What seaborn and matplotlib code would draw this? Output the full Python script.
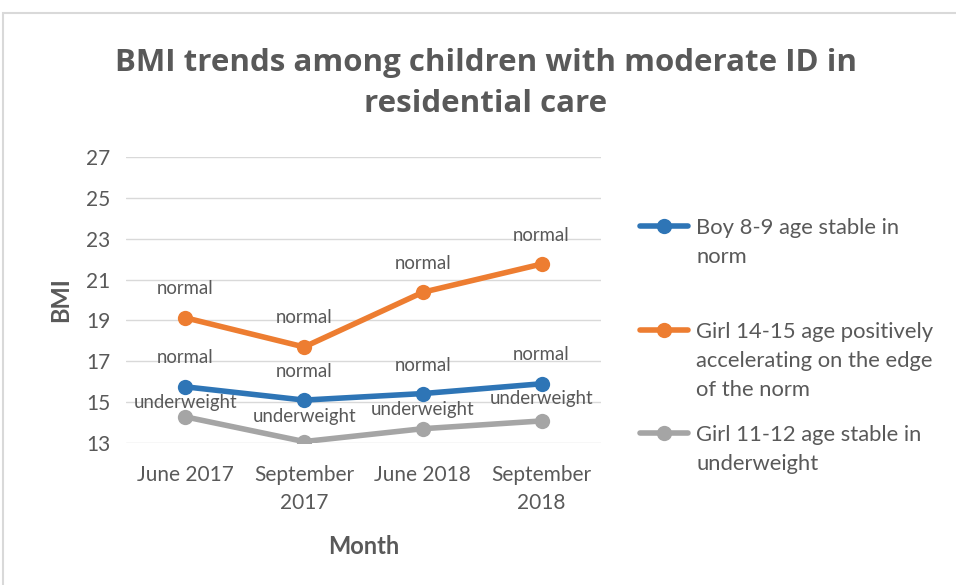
import matplotlib
matplotlib.use("Agg")
import matplotlib.pyplot as plt
import seaborn as sns
import pandas as pd
from matplotlib.patches import Rectangle

months = ["June 2017", "September\n2017", "June 2018", "September\n2018"]
series_names = ["Boy 8-9 age stable in\nnorm",
                "Girl 14-15 age positively\naccelerating on the edge\nof the norm",
                "Girl 11-12 age stable in\nunderweight"]
boy = [15.75, 15.1, 15.42, 15.9]
girl_14_15 = [19.13, 17.7, 20.38, 21.76]
girl_11_12 = [14.28, 13.07, 13.7, 14.08]
boy_labels = ["normal", "normal", "normal", "normal"]
girl_14_15_labels = ["normal", "normal", "normal", "normal"]
girl_11_12_labels = ["underweight", "underweight", "underweight", "underweight"]
colors = ["#2E75B6", "#ED7D31", "#A5A5A5"]
yticks = [13, 15, 17, 19, 21, 23, 25, 27]

# label offsets above the points (styling, in pixels)
label_offsets = [[29, 29, 28, 29], [29, 29, 29, 29], [14, 25, 19, 22]]
# legend entry top positions (figure pixels from top)
legend_tops = [218, 322, 425]

sns.set_theme(style="white")
plt.rcParams["font.family"] = ["Lato", "DejaVu Sans"]

rows = []
for name, vals, labs in zip(series_names, [boy, girl_14_15, girl_11_12],
                            [boy_labels, girl_14_15_labels, girl_11_12_labels]):
    for m, v, l in zip(months, vals, labs):
        rows.append({"Month": m, "BMI": v, "Series": name, "Label": l})
df = pd.DataFrame(rows)

fig = plt.figure(figsize=(9.56, 5.85), dpi=100)
fig.patches.append(Rectangle((3 / 956, -0.1), 1.2, 1 - 13 / 585 + 0.1, transform=fig.transFigure,
                             fill=False, edgecolor="#D9D9D9", linewidth=1.5))
ax = fig.add_axes([126 / 956, 1 - 443 / 585, 475 / 956, 286 / 585])

sns.lineplot(data=df, x="Month", y="BMI", hue="Series", palette=colors, marker="o",
             markersize=11, markeredgewidth=0, linewidth=4, sort=False, ax=ax, legend=True)

text_col = "#595959"
for si, (name, offs) in enumerate(zip(series_names, label_offsets)):
    sub = df[df["Series"] == name].reset_index(drop=True)
    for i, r in sub.iterrows():
        ax.annotate(r["Label"], (months.index(r["Month"]), r["BMI"]),
                    xytext=(0, offs[i] * 0.72), textcoords="offset points",
                    ha="center", va="center", fontsize=13.4, color=text_col)

ax.set_xlim(-0.5, 3.5)
ax.set_ylim(13, 27)
ax.set_yticks(yticks)
ax.set_yticklabels([str(t) for t in yticks])
ax.grid(axis="y", color="#D9D9D9", linewidth=1)
ax.set_axisbelow(True)
for s in ax.spines.values():
    s.set_visible(False)
ax.tick_params(axis="both", length=0, labelsize=15, colors=text_col)
ax.tick_params(axis="y", pad=11)
ax.tick_params(axis="x", pad=16)
for t in ax.get_xticklabels():
    t.set_linespacing(1.5)
ax.set_xlabel("Month", fontsize=17, fontweight="bold", color=text_col, labelpad=16)
ax.set_ylabel("BMI", fontsize=17, fontweight="bold", color=text_col, labelpad=10)

fig.suptitle("BMI trends among children with moderate ID in\nresidential care",
             x=486 / 956, y=1 - 48 / 585, fontsize=22.5, fontweight="bold", color=text_col,
             family=["Open Sans", "DejaVu Sans"], linespacing=1.5, va="top")

handles, labels = ax.get_legend_handles_labels()
if ax.legend_ is not None:
    ax.legend_.remove()
legends = []
for h, l, top in zip(handles, labels, legend_tops):
    leg = fig.legend([h], [l], loc="upper left", bbox_to_anchor=(640 / 956, 1 - top / 585),
                     bbox_transform=fig.transFigure, frameon=False, fontsize=15.8,
                     labelcolor=text_col, handlelength=2.2, handletextpad=0.37,
                     handleheight=0.9, borderpad=0, borderaxespad=0)
    for t in leg.get_texts():
        t.set_linespacing(1.55)
    for col in leg._legend_handle_box.get_children():
        for hp in col.get_children():
            hp.align = "top"
    legends.append(leg)

fig.savefig("out.png", dpi=100)
